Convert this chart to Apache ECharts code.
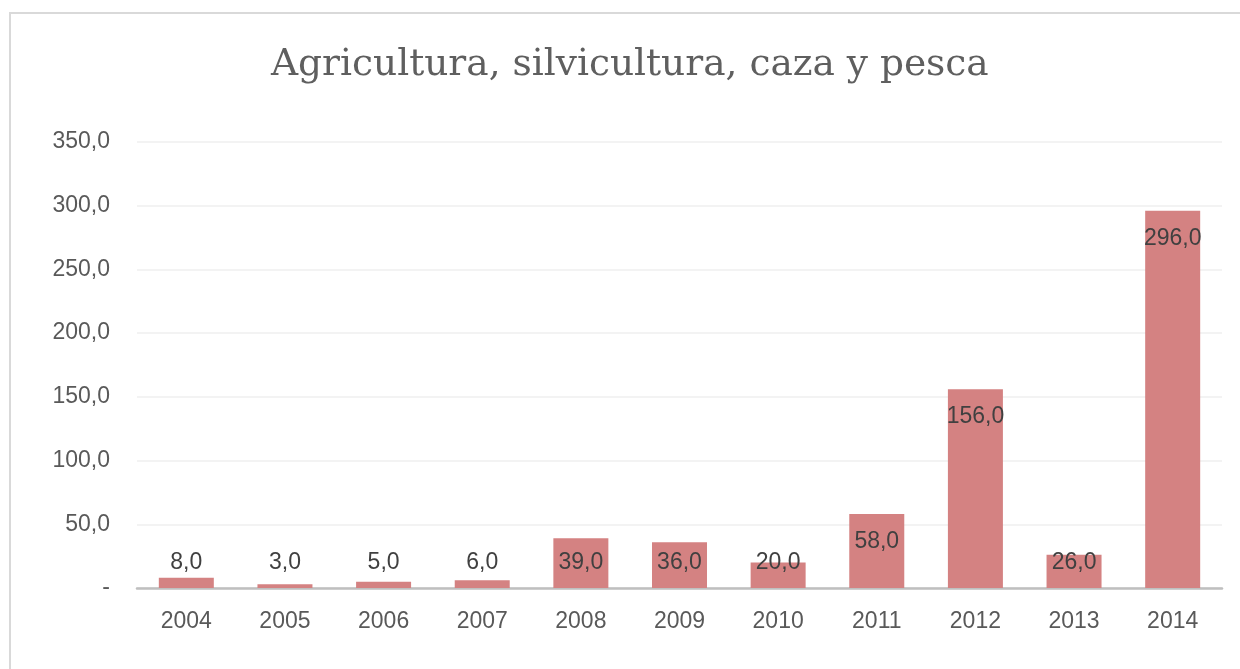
<!DOCTYPE html>
<html><head><meta charset="utf-8">
<script src="https://cdn.jsdelivr.net/npm/echarts@6/dist/echarts.min.js"></script>
<style>html,body{margin:0;padding:0;background:#fff;}#c{width:1240px;height:669px;}</style>
</head><body><div id="c"></div>
<script>
var title = 'Agricultura, silvicultura, caza y pesca';
var categories = ['2004','2005','2006','2007','2008','2009','2010','2011','2012','2013','2014'];
var values = [8, 3, 5, 6, 39, 36, 20, 58, 156, 26, 296];
var yTicks = [0, 50, 100, 150, 200, 250, 300, 350];

function fmt(v){ return v === 0 ? '-' : v.toFixed(1).replace('.', ','); }

var chart = echarts.init(document.getElementById('c'), null, {renderer:'canvas'});
chart.setOption({
  animation:false,
  title:{text:title,left:266,top:41,textStyle:{fontFamily:'DejaVu Serif',fontSize:37.5,fontWeight:'normal',color:'#5f5f5f'}},
  grid:{left:137,right:18,top:142,bottom:81},
  graphic:[{type:'rect',shape:{x:10,y:13,width:1260,height:700},style:{fill:'none',stroke:'#d9d9d9',lineWidth:2},z:-1}],
  xAxis:{type:'category',data:categories,
    axisLine:{lineStyle:{color:'#bfbfbf',width:2.5}},axisTick:{show:false},
    axisLabel:{color:'#595959',fontSize:23,fontFamily:'Liberation Sans',margin:22}},
  yAxis:{type:'value',min:yTicks[0],max:yTicks[yTicks.length-1],interval:50,
    axisLine:{show:false},axisTick:{show:false},
    splitLine:{lineStyle:{color:'#efefef',width:1.5}},
    axisLabel:{color:'#595959',fontSize:23,fontFamily:'Liberation Sans',margin:27,formatter:fmt}},
  series:[{type:'bar',barWidth:55,
    data:values.map(function(v){
      return {value:v,label:v<50?{position:'insideBottom',distance:14}:{position:'insideTop',distance:16}};
    }),
    itemStyle:{color:'#d48282'},
    label:{show:true,color:'#404040',fontSize:23,fontFamily:'Liberation Sans',formatter:function(p){return fmt(p.value);}}
  }]
});
</script></body></html>
